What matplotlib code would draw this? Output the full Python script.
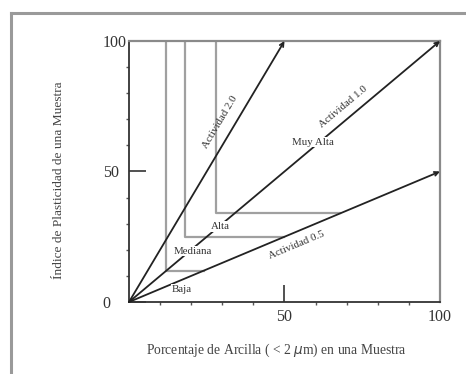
import matplotlib.pyplot as plt
from matplotlib.lines import Line2D

# activity lines: slope (PI / clay %) and end point
activity_names = ['Actividad 2.0', 'Actividad 1.0', 'Actividad 0.5']
activity_x_end = [50, 100, 100]
activity_y_end = [100, 100, 50]

# class boundaries (corner of each L shaped region)
box_x = [12, 18, 28]
box_y = [12, 25, 34]

x_ticks = [50, 100]
y_ticks = [0, 50, 100]
minor_ticks = [10, 20, 30, 40, 60, 70, 80, 90]

plt.rcParams['font.family'] = ['Liberation Serif', 'DejaVu Serif']

fig = plt.figure(figsize=(4.66, 3.74), dpi=100)
ax = fig.add_axes([0.2768, 0.1925, 0.6674, 0.6979])
ax.set_xlim(0, 100)
ax.set_ylim(0, 100)

# scanned page frame
fig.add_artist(Line2D([11 / 466, 11 / 466], [0, 1 - 13 / 374], transform=fig.transFigure,
                      color='#9a9a9a', lw=2.2))
fig.add_artist(Line2D([11 / 466, 1], [1 - 13 / 374, 1 - 13 / 374], transform=fig.transFigure,
                      color='#9a9a9a', lw=2.2))

# L shaped regions, from top down to the 0.5 line
for bx, by in zip(box_x, box_y):
    ax.plot([bx, bx, 2 * by], [100, by, by], color='#a0a0a0', lw=1.6, zorder=1)

for xe, ye in zip(activity_x_end, activity_y_end):
    ax.annotate('', xy=(xe, ye), xytext=(0, 0),
                arrowprops=dict(arrowstyle='->', color='#222222', lw=1.3,
                                mutation_scale=7, shrinkA=0, shrinkB=0), zorder=3)

tk = dict(fontsize=7.8, color='#333333', ha='center', va='center', zorder=4)
bb = dict(facecolor='white', edgecolor='none', pad=0.6)
ax.text(29.3, 69, activity_names[0], rotation=59.3, **tk)
ax.text(68.8, 74.7, activity_names[1], rotation=40, **tk)
ax.text(54, 21.8, activity_names[2], rotation=22.8, **tk)
ax.text(59.2, 61.3, 'Muy Alta', bbox=bb, **tk)
ax.text(29.5, 29, 'Alta', bbox=bb, **tk)
ax.text(20.5, 19.5, 'Mediana', bbox=bb, **tk)
ax.text(17, 4.8, 'Baja', bbox=bb, **tk)

for side in ['top', 'right']:
    ax.spines[side].set_color('#8a8a8a')
    ax.spines[side].set_linewidth(1.6)
for side in ['left', 'bottom']:
    ax.spines[side].set_color('#333333')
    ax.spines[side].set_linewidth(1.3)

ax.set_xticks(x_ticks)
ax.set_yticks(y_ticks)
ax.set_xticks(minor_ticks, minor=True)
ax.set_yticks(minor_ticks, minor=True)
ax.tick_params(which='major', direction='in', length=12, width=1.2, color='#333333',
               labelsize=11.5, labelcolor='#333333')
ax.tick_params(which='minor', direction='out', length=2.5, width=1, color='#555555')
ax.tick_params(axis='y', which='major', pad=19)
ax.tick_params(axis='x', which='major', pad=5)
for lab in ax.get_yticklabels():
    lab.set_horizontalalignment('left')

ax.set_xlabel(r'Porcentaje de Arcilla ( < 2 $\mu$m) en una Muestra', fontsize=9.8,
              color='#444444')
ax.set_ylabel('Índice de Plasticidad de una Muestra', fontsize=9.6, color='#444444')
ax.xaxis.set_label_coords(0.473, -0.15)
ax.yaxis.set_label_coords(-0.205, 0.465)

plt.savefig('out.png')
